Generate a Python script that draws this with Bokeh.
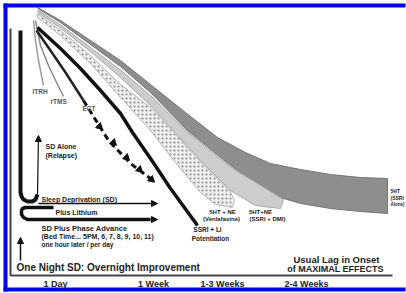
from bokeh.plotting import figure
from bokeh.models import Range1d, Arrow, NormalHead, ColumnDataSource
from bokeh.core.properties import value
from bokeh.embed import file_html
from bokeh.resources import INLINE

# ---- schematic data (time -> response curves, in drawing units) ----
lag_labels = ["1 Day", "1 Week", "1-3 Weeks", "2-4 Weeks"]
lag_pos = [55, 153, 222, 306]

# 5HT (SSRI alone) band
dark_up_x = [37, 60, 90, 120, 150, 185, 217, 245, 270, 300, 330, 360, 387]
dark_up_y = [7, 20, 40, 60, 84, 112, 137, 152, 163, 169, 174, 177, 178]
dark_lo_x = [38, 60, 90, 120, 150, 187, 230, 273, 300, 330, 360, 387]
dark_lo_y = [8.5, 22, 44, 66, 92, 130, 165, 195, 203, 208, 211, 213]
# 5HT+NE (SSRI + DMI) band
light_up_x = [38, 60, 90, 120, 150, 187, 230, 283]
light_up_y = [10, 24.5, 47, 69.5, 95, 131.5, 166.5, 199]
light_lo_x = [37, 60, 90, 120, 150, 173, 200, 230, 255, 280]
light_lo_y = [11.5, 27.5, 51, 77, 105, 130, 160, 190, 205, 208]
# 5HT + NE (Venlafaxine) band
stip_up_x = [37, 60, 90, 120, 150, 173, 200, 230, 234]
stip_up_y = [13, 30, 55, 84, 107, 131.5, 161.5, 191.5, 200]
stip_lo_x = [36, 60, 90, 120, 150, 175, 200, 215, 232]
stip_lo_y = [16, 35, 63, 97, 130, 162, 192, 204, 207]
# SSRI + Li potentiation
li_x = [37, 60, 80, 100, 120, 132, 150, 170, 197]
li_y = [27, 48, 68, 90, 113, 132, 158, 188, 225]
# ECT
ect_x = [36, 50, 65, 83, 108, 130, 150]
ect_y = [30, 50, 72, 100, 140, 163, 178]
ect_head_x = [99, 113, 126, 139, 151]
ect_head_y = [126, 142, 157, 169, 179]
# ITRH, rTMS
itrh_x = [33, 35, 38, 41, 43]
itrh_y = [20, 40, 60, 75, 85]
rtms_x = [35, 40, 48, 56, 63]
rtms_y = [20, 45, 65, 82, 96]
# Sleep deprivation (SD) and relapse
sd_x = [20, 20, 21, 23, 27, 32, 35, 37]
sd_y = [30, 192, 196, 199, 201, 201, 199, 194]
relapse_x = [37, 38]
relapse_y = [194, 135]
sd_arrow_x = [38, 157]
sd_arrow_y = [203, 203]
lith_x = [53, 25, 22, 21, 21, 23, 27, 150]
lith_y = [207, 207, 208, 210, 214, 217, 219, 219]
lith_arrow_x = [150, 157]
lith_arrow_y = [219, 219]
phase_arrow_x = [20, 20]
phase_arrow_y = [260, 237]
frame_x = [10, 10, 392]
frame_y = [28, 275, 275]

FONT = value("Liberation Sans")

p = figure(width=406, height=293, x_range=Range1d(0, 406), y_range=Range1d(293, 0),
           output_backend="svg", toolbar_location=None, min_border=0)
p.xaxis.visible = False
p.yaxis.visible = False
p.grid.visible = False
p.outline_line_color = None
p.background_fill_color = "white"
p.border_fill_color = "white"

# bands
p.patch(dark_up_x + dark_lo_x[::-1], dark_up_y + dark_lo_y[::-1],
        fill_color="#8e8e8e", line_color="#767676", line_width=1)
p.patch(light_up_x + light_lo_x[::-1], light_up_y + light_lo_y[::-1],
        fill_color="#cdcdcd", line_color="#a8a8a8", line_width=1)
p.patch(stip_up_x + stip_lo_x[::-1], stip_up_y + stip_lo_y[::-1],
        fill_color="#eeeeee", line_color="#b8b8b8", line_width=1,
        hatch_pattern="dot", hatch_color="#8a8a8a", hatch_scale=4, hatch_weight=1)

# thin curves
p.line(itrh_x, itrh_y, line_color="#9a9a9a", line_width=1.5)
p.line(rtms_x, rtms_y, line_color="#8a8a8a", line_width=1.5)
# SSRI + Li
p.line(li_x, li_y, line_color="#111111", line_width=3.5)
# ECT
p.line(ect_x[:4], ect_y[:4], line_color="#222222", line_width=2.5)
p.line(ect_x[3:], ect_y[3:], line_color="#111111", line_width=3, line_dash="6 4")
p.scatter(ect_head_x, ect_head_y, marker="triangle", size=7, angle=-0.74 - 1.5708,
          fill_color="#111111", line_color="#111111")

# SD lines
p.line(sd_x, sd_y, line_color="#111111", line_width=4)
p.line(frame_x, frame_y, line_color="#444444", line_width=2)
p.line(lith_x, lith_y, line_color="#111111", line_width=3.5)
for xs, ys, lw in [(relapse_x, relapse_y, 1.2), (sd_arrow_x, sd_arrow_y, 1.5),
                   (lith_arrow_x, lith_arrow_y, 1.5), (phase_arrow_x, phase_arrow_y, 1.5)]:
    p.add_layout(Arrow(x_start=xs[0], y_start=ys[0], x_end=xs[1], y_end=ys[1],
                       line_color="#111111", line_width=lw,
                       end=NormalHead(size=6, fill_color="#111111", line_color="#111111")))

# blue border
p.quad(left=[3, 3, 3], right=[405, 7, 405], top=[3, 3, 287], bottom=[7, 291, 291],
       fill_color="#0000ee", line_color=None)

# texts
def txt(x, y, s, size, align="left", weight="bold", color="#222222"):
    p.text(x=[x], y=[y], text=[s], text_font=FONT, text_font_size=f"{size}px",
           text_font_style=weight, text_color=color, text_align=align,
           text_baseline="middle")

txt(32, 91, "ITRH", 6.5, color="#555555")
txt(50, 101, "rTMS", 6.5, color="#555555")
txt(82, 108, "ECT", 6.5, color="#555555")
txt(45, 146, "SD Alone", 7)
txt(45, 155, "(Relapse)", 7)
txt(41, 199, "Sleep Deprivation (SD)", 7)
txt(55, 212, "Plus Lithium", 7)
txt(41, 228, "SD Plus Phase Advance", 7.5)
txt(41, 236, "(Bed Time... 5PM, 6, 7, 8, 9, 10, 11)", 7)
txt(41, 244, "one hour later / per day", 6.5)
txt(16, 267, "One Night SD: Overnight Improvement", 10)
txt(336, 259, "Usual Lag in Onset", 9.5, align="center")
txt(335, 268, "of MAXIMAL EFFECTS", 9, align="center")
txt(222, 211, "5HT + NE", 6, align="center")
txt(221, 218, "(Venlafaxine)", 6, align="center")
txt(260, 211, "5HT+NE", 6, align="center")
txt(267, 218, "(SSRI + DMI)", 6, align="center")
txt(207, 229, "SSRI + Li", 6.5, align="center")
txt(210, 238, "Potentiation", 6.5, align="center")
txt(390, 190, "5HT", 5)
txt(390, 197, "(SSRI", 5)
txt(390, 204, "Alone)", 4.5)

src = ColumnDataSource(dict(x=lag_pos, y=[283] * len(lag_pos), t=lag_labels))
p.text(x="x", y="y", text="t", source=src, text_font=FONT, text_font_size="9px",
       text_font_style="bold", text_color="#222222", text_align="center",
       text_baseline="middle")

open("out.html", "w").write(file_html(p, INLINE))
